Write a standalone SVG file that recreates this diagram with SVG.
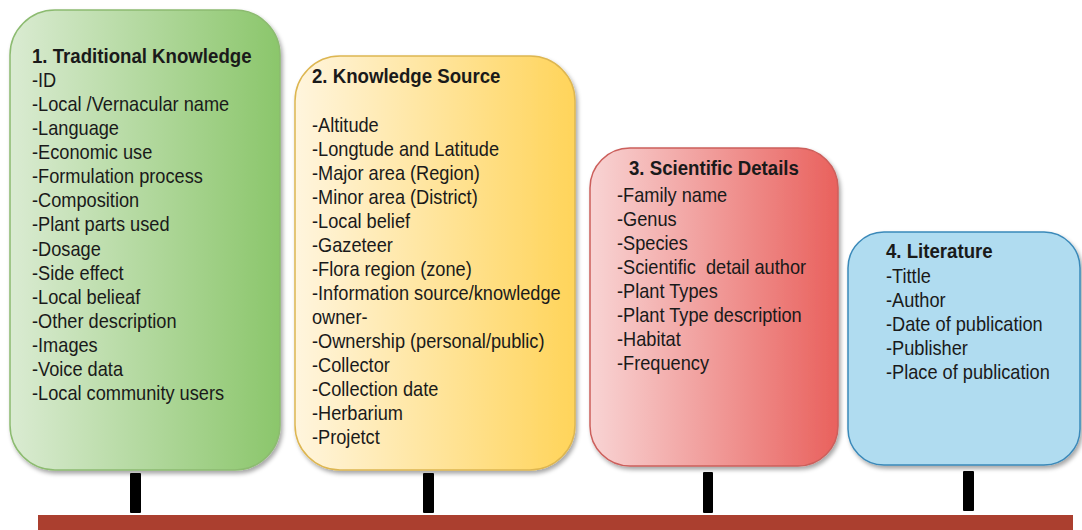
<svg xmlns="http://www.w3.org/2000/svg" width="1082" height="530" viewBox="0 0 1082 530">
  <defs>
    <linearGradient id="gGreen" x1="0" y1="0" x2="1" y2="0">
      <stop offset="0" stop-color="#DAEBD2"/>
      <stop offset="1" stop-color="#8BC66B"/>
    </linearGradient>
    <linearGradient id="gYellow" x1="0" y1="0" x2="1" y2="0">
      <stop offset="0" stop-color="#FFF5DE"/>
      <stop offset="1" stop-color="#FFD45A"/>
    </linearGradient>
    <linearGradient id="gRed" x1="0" y1="0" x2="1" y2="0">
      <stop offset="0" stop-color="#F8D4D4"/>
      <stop offset="1" stop-color="#E9615D"/>
    </linearGradient>
    <filter id="shadow" x="-10%" y="-10%" width="125%" height="125%">
      <feDropShadow dx="2" dy="3" stdDeviation="2" flood-color="#000" flood-opacity="0.35"/>
    </filter>
  </defs>
  <style>
    .box { stroke-width: 1.5; filter: url(#shadow); }
    .title { font-family: "Liberation Sans", Arial, sans-serif; font-weight: bold; font-size: 20.5px; fill: #1a1a1a; }
    .item { font-family: "Liberation Sans", Arial, sans-serif; font-size: 20px; fill: #1a1a1a; }
    .stub { fill: #000; }
  </style>
  <rect width="1082" height="530" fill="#fff"/>

  <g id="node1">
    <rect class="box" x="10" y="10" width="270" height="460" rx="45" ry="45" fill="url(#gGreen)" stroke="#8CBB70"/>
    <g transform="translate(32,0) scale(0.91,1)">
      <text class="title" x="0" y="63">1. Traditional Knowledge</text>
      <text class="item" x="0" y="87">-ID</text>
      <text class="item" x="0" y="111">-Local /Vernacular name</text>
      <text class="item" x="0" y="135">-Language</text>
      <text class="item" x="0" y="159">-Economic use</text>
      <text class="item" x="0" y="183">-Formulation process</text>
      <text class="item" x="0" y="207">-Composition</text>
      <text class="item" x="0" y="231">-Plant parts used</text>
      <text class="item" x="0" y="256">-Dosage</text>
      <text class="item" x="0" y="280">-Side effect</text>
      <text class="item" x="0" y="304">-Local belieaf</text>
      <text class="item" x="0" y="328">-Other description</text>
      <text class="item" x="0" y="352">-Images</text>
      <text class="item" x="0" y="376">-Voice data</text>
      <text class="item" x="0" y="400">-Local community users</text>
    </g>
  </g>

  <g id="node2">
    <rect class="box" x="295" y="56" width="280" height="414" rx="45" ry="45" fill="url(#gYellow)" stroke="#DDB651"/>
    <g transform="translate(312,0) scale(0.91,1)">
      <text class="title" x="0" y="83">2. Knowledge Source</text>
      <text class="item" x="0" y="132">-Altitude</text>
      <text class="item" x="0" y="156">-Longtude and Latitude</text>
      <text class="item" x="0" y="180">-Major area (Region)</text>
      <text class="item" x="0" y="204">-Minor area (District)</text>
      <text class="item" x="0" y="228">-Local belief</text>
      <text class="item" x="0" y="252">-Gazeteer</text>
      <text class="item" x="0" y="276">-Flora region (zone)</text>
      <text class="item" x="0" y="300">-Information source/knowledge</text>
      <text class="item" x="0" y="324">owner-</text>
      <text class="item" x="0" y="348">-Ownership (personal/public)</text>
      <text class="item" x="0" y="372">-Collector</text>
      <text class="item" x="0" y="396">-Collection date</text>
      <text class="item" x="0" y="420">-Herbarium</text>
      <text class="item" x="0" y="444">-Projetct</text>
    </g>
  </g>

  <g id="node3">
    <rect class="box" x="590" y="148" width="248" height="318" rx="40" ry="40" fill="url(#gRed)" stroke="#CC5F5B"/>
    <g transform="translate(629,0) scale(0.91,1)">
      <text class="title" x="0" y="175">3. Scientific Details</text>
    </g>
    <g transform="translate(617,0) scale(0.91,1)">
      <text class="item" x="0" y="202">-Family name</text>
      <text class="item" x="0" y="226">-Genus</text>
      <text class="item" x="0" y="250">-Species</text>
      <text class="item" x="0" y="274" xml:space="preserve">-Scientific  detail author</text>
      <text class="item" x="0" y="298">-Plant Types</text>
      <text class="item" x="0" y="322">-Plant Type description</text>
      <text class="item" x="0" y="346">-Habitat</text>
      <text class="item" x="0" y="370">-Frequency</text>
    </g>
  </g>

  <g id="node4">
    <rect class="box" x="848" y="232" width="232" height="233" rx="36" ry="36" fill="#B0DCF0" stroke="#3A89B9"/>
    <g transform="translate(886,0) scale(0.91,1)">
      <text class="title" x="0" y="258">4. Literature</text>
      <text class="item" x="0" y="283">-Tittle</text>
      <text class="item" x="0" y="307">-Author</text>
      <text class="item" x="0" y="331">-Date of publication</text>
      <text class="item" x="0" y="355">-Publisher</text>
      <text class="item" x="0" y="379">-Place of publication</text>
    </g>
  </g>

  <g id="base">
    <rect x="38" y="515" width="1035" height="15" fill="#AB3F2F"/>
  </g>

  <g id="connectors">
    <rect class="stub" x="130" y="473" width="11" height="40" rx="1"/>
    <rect class="stub" x="423" y="473" width="11" height="40" rx="1"/>
    <rect class="stub" x="703" y="472" width="10" height="41" rx="1"/>
    <rect class="stub" x="963" y="471" width="11" height="40" rx="1"/>
  </g>
</svg>
